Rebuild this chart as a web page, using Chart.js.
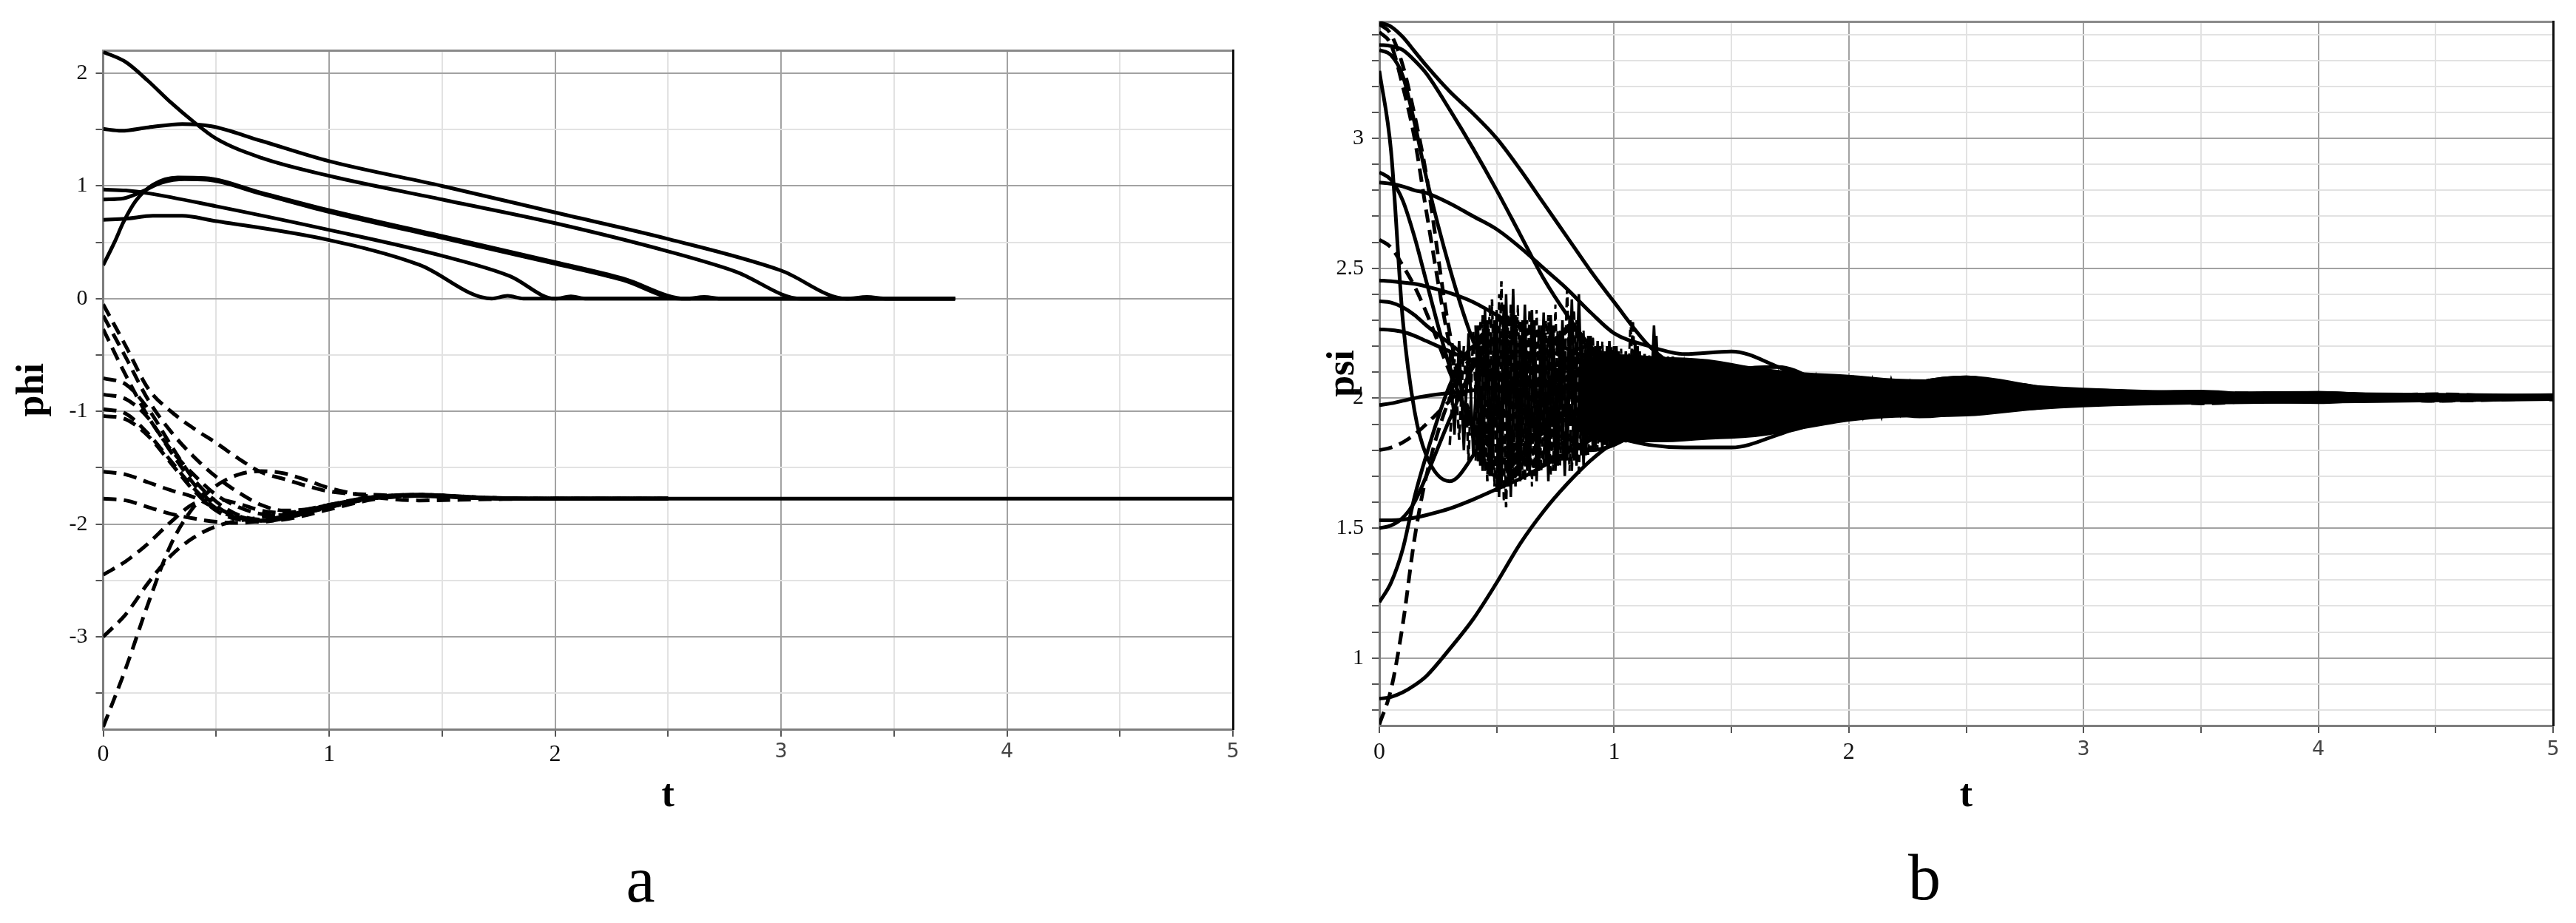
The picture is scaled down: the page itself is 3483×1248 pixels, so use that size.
<!DOCTYPE html>
<html lang="en">
<head>
<meta charset="utf-8">
<title>phi / psi</title>
<script src="https://cdn.jsdelivr.net/npm/chart.js@4.4.1/dist/chart.umd.min.js"></script>
<style>
  body { margin:0; background:#fff; width:3483px; height:1248px; position:relative; overflow:hidden; }
  canvas { position:absolute; top:0; }
  .lbl { position:absolute; font-family:'Liberation Serif', serif; font-size:88px; color:#000;
         transform:translate(-50%,-50%); line-height:1; }
</style>
</head>
<body>

<canvas id="phiChart" width="1700" height="1130" style="left:0px; width:1700px; height:1130px"></canvas>
<canvas id="psiChart" width="1703" height="1130" style="left:1780px; width:1703px; height:1130px"></canvas>
<div class="lbl" style="left:866px; top:1190px">a</div>
<div class="lbl" style="left:2602px; top:1187px">b</div>

<script>
// ---------- figure a : phi(t) ----------
// tick labels
const xTickLabels = [0, 1, 2, 3, 4, 5];
const phiTickLabels = [-3, -2, -1, 0, 1, 2];
const psiTickLabels = [1, 1.5, 2, 2.5, 3];

// upper group (solid), each curve has its own time points
const tA = [0, 0.1, 0.2, 0.3, 0.4, 0.5, 0.7, 1.0, 1.5, 2.0, 2.5, 2.8, 3.09, 3.77];
const phiA = [2.19, 2.1, 1.93, 1.74, 1.57, 1.42, 1.25, 1.09, 0.88, 0.67, 0.42, 0.24, 0, 0];
const tB = [0, 0.08, 0.2, 0.35, 0.48, 0.7, 1.0, 1.5, 2.0, 2.5, 3.0, 3.29, 3.38, 3.47, 3.77];
const phiB = [1.506, 1.49, 1.52, 1.55, 1.53, 1.40, 1.22, 1.0, 0.765, 0.53, 0.25, 0, 0.015, 0, 0];
const tC = [0, 0.05, 0.09, 0.145, 0.22, 0.33, 0.45, 0.7, 1.0, 1.5, 2.0, 2.3, 2.58, 2.66, 2.74, 3.77];
const phiC = [0.297, 0.5, 0.68, 0.87, 1.01, 1.075, 1.07, 0.94, 0.785, 0.555, 0.325, 0.18, 0, 0.015, 0, 0];
const tD = [0, 0.09, 0.16, 0.26, 0.36, 0.46, 0.7, 1.0, 1.5, 2.0, 2.3, 2.55, 3.77];
const phiD = [0.88, 0.89, 0.94, 1.03, 1.06, 1.055, 0.93, 0.77, 0.54, 0.31, 0.165, 0, 0];
const tE = [0, 0.1, 0.2, 0.5, 1.0, 1.5, 1.8, 2.0, 2.07, 2.14, 3.77];
const phiE = [0.968, 0.96, 0.935, 0.82, 0.61, 0.38, 0.2, 0, 0.02, 0, 0];
const tF = [0, 0.1, 0.22, 0.35, 0.48, 1.0, 1.4, 1.72, 1.79, 1.86, 3.77];
const phiF = [0.70, 0.71, 0.735, 0.735, 0.695, 0.52, 0.3, 0, 0.025, 0, 0];

// lower group (dashed), common time grid
const tLow = [0, 0.1, 0.2, 0.3, 0.4, 0.5, 0.6, 0.7, 0.8, 0.9, 1.0, 1.2, 1.4, 1.7, 2.0, 2.5];
const phiL1  = [-0.05, -0.42, -0.80, -1.0, -1.15, -1.28, -1.42, -1.54, -1.60, -1.66, -1.71, -1.74, -1.75, -1.77, -1.775, -1.775];
const phiL2  = [-0.15, -0.52, -0.9, -1.18, -1.4, -1.58, -1.72, -1.83, -1.88, -1.87, -1.83, -1.76, -1.74, -1.765, -1.775, -1.775];
const phiL3  = [-0.27, -0.68, -1.05, -1.34, -1.56, -1.74, -1.85, -1.91, -1.92, -1.89, -1.84, -1.76, -1.745, -1.77, -1.775, -1.775];
const phiL4  = [-0.705, -0.76, -0.98, -1.3, -1.6, -1.8, -1.92, -1.96, -1.94, -1.9, -1.85, -1.77, -1.74, -1.765, -1.775, -1.775];
const phiL5  = [-0.85, -0.89, -1.06, -1.36, -1.64, -1.84, -1.94, -1.97, -1.95, -1.9, -1.84, -1.76, -1.74, -1.77, -1.775, -1.775];
const phiL6  = [-0.98, -1.02, -1.2, -1.44, -1.68, -1.86, -1.95, -1.98, -1.95, -1.9, -1.85, -1.77, -1.745, -1.77, -1.775, -1.775];
const phiL7  = [-1.04, -1.07, -1.22, -1.46, -1.7, -1.88, -1.96, -1.97, -1.94, -1.89, -1.84, -1.76, -1.74, -1.77, -1.775, -1.775];
const phiL8  = [-1.535, -1.56, -1.63, -1.70, -1.76, -1.86, -1.93, -1.97, -1.96, -1.92, -1.87, -1.78, -1.75, -1.77, -1.775, -1.775];
const phiL9  = [-1.775, -1.79, -1.85, -1.91, -1.95, -1.98, -1.99, -1.97, -1.93, -1.88, -1.83, -1.76, -1.75, -1.77, -1.775, -1.775];
const phiL10 = [-2.45, -2.33, -2.17, -1.98, -1.82, -1.78, -1.82, -1.88, -1.9, -1.88, -1.84, -1.77, -1.745, -1.77, -1.775, -1.775];
const phiL11 = [-3.0, -2.8, -2.52, -2.28, -2.12, -2.02, -1.97, -1.94, -1.91, -1.87, -1.83, -1.77, -1.75, -1.77, -1.775, -1.775];
const phiL12 = [-3.8, -3.28, -2.7, -2.18, -1.85, -1.66, -1.56, -1.53, -1.55, -1.61, -1.68, -1.76, -1.79, -1.78, -1.775, -1.775];
// settled value, drawn solid to the end
const tTail = [2.0, 5.0];
const phiTail = [-1.775, -1.775];

// ---------- figure b : psi(t) ----------
const tPsi = [0, 0.05, 0.1, 0.15, 0.2, 0.3, 0.4, 0.5, 0.6, 0.7, 0.8, 0.9, 1.0, 1.15, 1.3, 1.5, 1.7, 1.9, 2.1, 2.3, 2.5, 2.75, 3.0, 3.5, 4.0, 4.5, 5.0];
const psi1  = [3.446,3.43,3.39,3.335,3.28,3.18,3.095,3.0,2.88,2.75,2.62,2.49,2.37,2.2,2.1,2.03,1.95,1.92,1.96,2.03,2.07,2.05,2.01,1.985,2.015,1.995,2.005];
const psi2  = [3.36,3.355,3.34,3.30,3.25,3.11,2.96,2.80,2.63,2.46,2.32,2.2,2.12,2.04,1.97,1.9,1.87,1.92,2.0,2.06,2.08,2.03,1.98,2.02,1.99,2.01,1.998];
const psi3  = [3.34,3.32,3.24,3.06,2.85,2.5,2.22,2.05,1.95,1.9,1.92,1.98,2.05,2.1,2.08,2.0,1.94,1.95,2.0,2.04,2.02,1.98,1.99,2.012,2.0,1.993,2.01];
const psi4  = [3.26,2.95,2.3,1.95,1.78,1.68,1.78,1.95,2.1,2.18,2.15,2.05,1.95,1.88,1.9,1.98,2.06,2.08,2.03,1.97,1.95,1.99,2.025,1.995,1.985,2.012,2.0];
const psi5  = [3.44,3.40,3.28,3.09,2.86,2.25,1.9,1.75,1.8,1.95,2.1,2.15,2.1,2.0,1.92,1.9,1.96,2.04,2.07,2.04,1.98,1.96,1.99,2.02,2.01,1.99,2.008];
const psi6  = [3.41,3.36,3.2,3.0,2.72,2.2,1.85,1.7,1.75,1.95,2.15,2.2,2.12,1.98,1.9,1.92,2.0,2.05,2.05,2.0,1.97,1.98,2.01,1.99,2.0,2.015,1.995];
const psi7  = [2.87,2.84,2.76,2.62,2.45,2.12,1.88,1.75,1.78,1.9,2.05,2.15,2.16,2.08,1.96,1.88,1.9,1.98,2.05,2.06,2.02,1.97,1.98,2.015,2.02,1.998,2.0];
const psi8  = [2.83,2.825,2.815,2.80,2.79,2.75,2.70,2.65,2.58,2.5,2.42,2.33,2.25,2.2,2.17,2.18,2.12,2.04,1.97,1.94,1.96,2.01,2.03,2.01,1.995,2.005,2.01];
const psi9  = [2.61,2.58,2.51,2.43,2.33,2.1,1.9,1.8,1.85,2.0,2.12,2.12,2.03,1.93,1.9,1.95,2.03,2.06,2.03,1.98,1.96,2.0,2.02,1.98,2.005,1.99,2.0];
const psi10 = [2.453,2.45,2.445,2.44,2.43,2.405,2.37,2.32,2.27,2.23,2.19,2.15,2.12,2.08,2.05,2.0,1.96,1.95,1.97,2.0,2.03,2.03,2.0,1.99,2.02,2.0,1.997];
const psi11 = [2.373,2.368,2.35,2.32,2.28,2.21,2.14,2.08,2.02,1.97,1.93,1.9,1.89,1.9,1.94,2.0,2.04,2.05,2.02,1.98,1.97,1.99,2.01,2.025,1.99,2.005,2.012];
const psi12 = [2.265,2.262,2.255,2.24,2.22,2.18,2.14,2.09,2.03,1.97,1.91,1.87,1.85,1.82,1.81,1.81,1.86,1.93,2.0,2.06,2.08,2.05,2.0,1.985,2.0,2.01,2.005];
const psi13 = [1.973,1.98,1.99,2.0,2.008,2.02,2.03,2.04,2.05,2.05,2.04,2.02,2.0,1.97,1.95,1.96,1.99,2.02,2.03,2.02,2.0,1.99,2.0,2.005,2.01,1.995,2.0];
const psi14 = [1.80,1.81,1.83,1.86,1.9,1.99,2.08,2.15,2.18,2.15,2.07,1.98,1.9,1.86,1.88,1.95,2.03,2.07,2.05,2.0,1.96,1.97,2.0,2.015,1.995,2.0,2.003];
const psi15 = [1.53,1.53,1.533,1.54,1.55,1.575,1.61,1.65,1.69,1.74,1.79,1.84,1.88,1.93,1.97,2.02,2.05,2.04,2.0,1.97,1.97,1.99,2.01,1.995,2.0,2.008,1.997];
const psi16 = [1.50,1.51,1.54,1.6,1.7,1.92,2.12,2.22,2.2,2.08,1.95,1.86,1.84,1.88,1.96,2.06,2.1,2.06,1.99,1.95,1.97,2.01,2.02,2.0,1.99,2.0,2.006];
const psi17 = [1.215,1.29,1.42,1.62,1.78,2.05,2.2,2.22,2.12,1.98,1.85,1.8,1.82,1.9,2.0,2.1,2.12,2.05,1.97,1.93,1.95,2.02,2.03,1.99,2.012,1.995,2.0];
const psi18 = [0.843,0.85,0.868,0.895,0.93,1.035,1.15,1.29,1.44,1.565,1.67,1.76,1.83,1.9,1.95,1.99,2.03,2.05,2.04,2.01,1.98,1.98,2.0,2.01,2.0,2.0,2.0];
const psi19 = [0.744,0.88,1.13,1.46,1.7,2.0,2.15,2.12,1.98,1.85,1.8,1.84,1.93,2.05,2.1,2.07,1.98,1.93,1.95,2.0,2.03,2.02,1.99,2.0,2.015,2.005,1.998];

// fast oscillations in the transient (read as an envelope)
const tNoise = [0.30,0.32,0.34,0.36,0.38,0.40,0.42,0.44,0.46,0.48,
  0.50,0.52,0.54,0.56,0.58,0.60,0.62,0.64,0.66,0.68,
  0.70,0.72,0.74,0.76,0.78,0.80,0.82,0.84,0.86,0.88,
  0.90,0.92,0.94,0.96,0.98,1.00,1.02,1.04,1.06,1.08,
  1.10,1.12,1.14,1.16,1.18,1.20,1.22,1.24,1.26,1.28,1.30,
  1.34,1.38,1.42,1.46,1.50,1.54,1.58,1.62,1.66,1.70,
  1.74,1.78,1.82,1.86,1.90,1.94,1.98,2.02,2.06,2.10,
  2.14,2.18,2.22,2.26,2.30,2.34,2.38,2.42,2.46,2.50];
const noiseA = [2.18,1.86,2.22,1.80,2.25,1.78,2.28,1.72,2.30,1.70,
  2.34,1.66,2.40,1.62,2.32,1.68,2.36,1.70,2.30,1.72,
  2.33,1.68,2.28,1.74,2.30,1.76,2.38,1.74,2.25,1.78,
  2.24,1.80,2.20,1.82,2.22,1.82,2.18,1.84,2.16,1.84,
  2.20,1.85,2.15,1.86,2.24,1.86,2.14,1.87,2.13,1.88,2.12,
  1.88,2.12,1.89,2.11,1.90,2.10,1.90,2.09,1.91,2.09,
  1.91,2.08,1.92,2.08,1.92,2.07,1.93,2.07,1.93,2.07,
  1.93,2.07,1.94,2.06,1.94,2.06,1.95,2.06,1.95,2.05];
const noiseB = [1.82,2.15,1.84,2.20,1.76,2.26,1.75,2.32,1.68,2.38,
  1.64,2.45,1.58,2.36,1.66,2.30,1.68,2.34,1.70,2.28,
  1.74,2.32,1.72,2.26,1.76,2.42,1.72,2.30,1.78,2.22,
  1.80,2.20,1.83,2.18,1.82,2.20,1.84,2.16,1.85,2.30,
  1.86,2.14,1.86,2.13,1.87,2.13,1.88,2.12,1.88,2.11,1.89,
  2.10,1.90,2.09,1.91,2.09,1.91,2.08,1.92,2.08,1.92,
  2.07,1.93,2.07,1.93,2.06,1.94,2.06,1.94,2.06,1.94,
  2.05,1.95,2.05,1.95,2.05,1.95,2.04,1.96,2.04,1.96];
const noiseC = [2.05,1.92,2.10,1.88,2.12,1.86,2.16,1.84,2.20,1.80,
  2.22,1.76,2.26,1.74,2.24,1.78,2.20,1.80,2.22,1.78,
  2.18,1.82,2.20,1.84,2.16,1.86,2.18,1.85,2.14,1.86,
  2.13,1.88,2.12,1.88,2.12,1.89,2.11,1.90,2.10,1.90,
  2.10,1.91,2.09,1.91,2.09,1.92,2.08,1.92,2.08,1.93,2.07,
  1.93,2.07,1.94,2.06,1.94,2.06,1.95,2.05,1.95,2.05,
  1.96,2.05,1.96,2.04,1.96,2.04,1.97,2.04,1.97,2.03,
  1.97,2.03,1.98,2.03,1.98,2.02,1.98,2.02,1.99,2.02];
// second set of oscillating traces, offset in time
const tNoise2 = [0.41,0.43,0.45,0.47,0.49,0.51,0.53,0.55,0.57,0.59,
  0.61,0.63,0.65,0.67,0.69,0.71,0.73,0.75,0.77,0.79,
  0.81,0.83,0.85,0.87,0.89,0.91,0.93,0.95,0.97,0.99,
  1.01,1.03,1.05,1.07,1.09,1.11,1.13,1.15,1.17,1.19,
  1.21,1.23,1.25,1.27,1.29,1.31,1.33,1.35,1.37,1.39,
  1.41,1.43,1.45,1.47,1.49,1.51,1.53,1.55,1.57,1.59];
const noiseD = [2.28,1.74,2.34,1.70,2.30,1.62,2.36,1.66,2.42,1.70,
  2.30,1.72,2.34,1.68,2.28,1.74,2.32,1.72,2.26,1.70,
  2.30,1.76,2.40,1.74,2.24,1.80,2.22,1.80,2.20,1.82,
  2.20,1.83,2.18,1.84,2.22,1.84,2.17,1.85,2.28,1.85,
  2.16,1.86,2.16,1.86,2.15,1.87,2.15,1.87,2.14,1.88,
  2.14,1.88,2.13,1.89,2.13,1.89,2.12,1.90,2.12,1.90];
const noiseE = [1.76,2.30,1.72,2.36,1.66,2.40,1.60,2.32,1.68,2.36,
  1.70,2.30,1.66,2.34,1.72,2.30,1.70,2.36,1.74,2.28,
  1.72,2.34,1.70,2.26,1.78,2.24,1.80,2.22,1.80,2.20,
  1.82,2.19,1.83,2.30,1.84,2.18,1.84,2.17,1.85,2.16,
  1.85,2.16,1.86,2.15,1.86,2.15,1.87,2.14,1.87,2.14,
  1.88,2.13,1.88,2.13,1.89,2.12,1.89,2.12,1.90,2.11];
// dense core of the bundle (filled between lower and upper edge)
const tBand = [0.85, 1.0, 1.2, 1.4, 1.6, 1.8, 2.0, 2.2, 2.5, 2.8, 3.0, 3.5, 4.0, 4.5, 5.0];
const bandHi = [2.13, 2.17, 2.16, 2.15, 2.12, 2.10, 2.09, 2.075, 2.07, 2.05, 2.04, 2.027, 2.024, 2.02, 2.016];
const bandLo = [1.87, 1.83, 1.83, 1.84, 1.85, 1.88, 1.91, 1.925, 1.93, 1.955, 1.965, 1.976, 1.98, 1.985, 1.99];

// ---------- helpers ----------
function pts(ts, ys) { return ts.map((t, i) => ({x: t, y: ys[i]})); }
function solid(ts, ys) {
  return {data: pts(ts, ys), borderColor: '#000', borderWidth: 5, pointRadius: 0,
          fill: false, cubicInterpolationMode: 'monotone'};
}
function dashed(ts, ys) { const d = solid(ts, ys); d.borderDash = [18, 10]; return d; }
function spiky(ts, ys, w, dash) {
  return {data: pts(ts, ys), borderColor: '#000', borderWidth: w, pointRadius: 0,
          fill: false, tension: 0, borderDash: dash || []};
}
function onStep(v, s) { return Math.abs(v / s - Math.round(v / s)) < 1e-6; }
function inList(v, list) { return list.some(l => Math.abs(l - v) < 1e-6); }
function fmt(v) { return String(Math.round(v * 10) / 10); }

const serif = 'Liberation Serif';

function scales(o) {
  return {
    x: {
      type: 'linear', min: 0, max: 5,
      afterFit: s => { s.height = o.xHeight; },
      ticks: {
        stepSize: 0.5, autoSkip: false, maxRotation: 0, padding: o.xPad,
        callback: v => inList(v, xTickLabels) ? fmt(v) : '',
        font: c => (c.tick && c.tick.value >= 3) ? {family: 'DejaVu Sans', size: 27} : {family: serif, size: 32},
        color: c => (c.tick && c.tick.value >= 3) ? '#444' : '#111'
      },
      grid: {
        color: c => (!c.tick || onStep(c.tick.value, 1)) ? '#a2a2a2' : '#e2e2e2',
        lineWidth: 2, tickLength: 10, tickColor: '#555', tickWidth: 2
      },
      border: {color: '#7d7d7d', width: 3},
      title: {display: true, text: 't', color: '#000',
              font: {family: serif, size: 52, weight: 'bold', lineHeight: 1},
              padding: {top: 0, bottom: o.tPad}}
    },
    y: {
      type: 'linear', min: o.yMin, max: o.yMax,
      afterFit: s => { s.width = o.yWidth; },
      ticks: {
        stepSize: o.yStep, autoSkip: false, padding: 11, includeBounds: false,
        callback: v => inList(v, o.yLabels) ? fmt(v) : '',
        font: {family: serif, size: 30}, color: '#111'
      },
      grid: {
        color: c => (!c.tick || onStep(c.tick.value, o.yMajor)) ? '#a2a2a2' : '#e2e2e2',
        lineWidth: 2, tickLength: 10, tickColor: '#555', tickWidth: 2
      },
      border: {color: '#7d7d7d', width: 3},
      title: {display: true, text: o.yTitle, color: '#000',
              font: {family: serif, size: 52, weight: 'bold', lineHeight: 1},
              padding: {top: o.titlePad, bottom: 0}}
    },
    // top and right frame lines
    x2: {
      type: 'linear', position: 'top', min: 0, max: 5,
      afterFit: s => { s.height = 0; },
      ticks: {display: false}, grid: {display: false, drawTicks: false},
      border: {color: '#8a8a8a', width: 3}
    },
    y2: {
      type: 'linear', position: 'right', min: o.yMin, max: o.yMax,
      afterFit: s => { s.width = 0; },
      ticks: {display: false}, grid: {display: false, drawTicks: false},
      border: {color: '#111', width: 3}
    }
  };
}

function baseOptions(o) {
  return {
    responsive: false, devicePixelRatio: 1, animation: false, events: [],
    layout: {padding: {left: 0, top: o.top, right: o.right, bottom: 0}},
    plugins: {legend: {display: false}, tooltip: {enabled: false}},
    scales: scales(o)
  };
}

// ---------- chart a ----------
new Chart(document.getElementById('phiChart'), {
  type: 'line',
  data: {datasets: [
    solid(tA, phiA), solid(tB, phiB), solid(tC, phiC),
    solid(tD, phiD), solid(tE, phiE), solid(tF, phiF),
    dashed(tLow, phiL1), dashed(tLow, phiL2), dashed(tLow, phiL3),
    dashed(tLow, phiL4), dashed(tLow, phiL5), dashed(tLow, phiL6),
    dashed(tLow, phiL7), dashed(tLow, phiL8), dashed(tLow, phiL9),
    dashed(tLow, phiL10), dashed(tLow, phiL11), dashed(tLow, phiL12),
    solid(tTail, phiTail)
  ]},
  options: baseOptions({top: 68.6, right: 33, xHeight: 144, yWidth: 139.5,
    yMin: -3.82, yMax: 2.2, yStep: 0.5, yMajor: 1, yLabels: phiTickLabels,
    yTitle: 'phi', titlePad: 19, tPad: 27, xPad: 5})
});

// ---------- chart b ----------
const bandLoSet = {data: pts(tBand, bandLo), borderWidth: 0, pointRadius: 0, fill: false,
                   cubicInterpolationMode: 'monotone'};
const bandHiSet = {data: pts(tBand, bandHi), borderWidth: 0, pointRadius: 0, fill: '-1',
                   backgroundColor: '#000', cubicInterpolationMode: 'monotone'};

new Chart(document.getElementById('psiChart'), {
  type: 'line',
  data: {datasets: [
    bandLoSet, bandHiSet,
    spiky(tNoise, noiseA, 3.5), spiky(tNoise, noiseB, 3.5, [12, 6]), spiky(tNoise, noiseC, 3),
    spiky(tNoise2, noiseD, 3.5), spiky(tNoise2, noiseE, 3, [10, 6]),
    solid(tPsi, psi1), solid(tPsi, psi2), solid(tPsi, psi3), solid(tPsi, psi4),
    dashed(tPsi, psi5), dashed(tPsi, psi6), solid(tPsi, psi7), solid(tPsi, psi8),
    dashed(tPsi, psi9), solid(tPsi, psi10), solid(tPsi, psi11), solid(tPsi, psi12),
    solid(tPsi, psi13), dashed(tPsi, psi14), solid(tPsi, psi15), solid(tPsi, psi16),
    solid(tPsi, psi17), solid(tPsi, psi18), dashed(tPsi, psi19)
  ]},
  options: baseOptions({top: 23, right: 31, xHeight: 149, yWidth: 85,
    yMin: 0.74, yMax: 3.45, yStep: 0.1, yMajor: 0.5, yLabels: psiTickLabels,
    yTitle: 'psi', titlePad: 11, tPad: 27, xPad: 7})
});
</script>

</body>
</html>
